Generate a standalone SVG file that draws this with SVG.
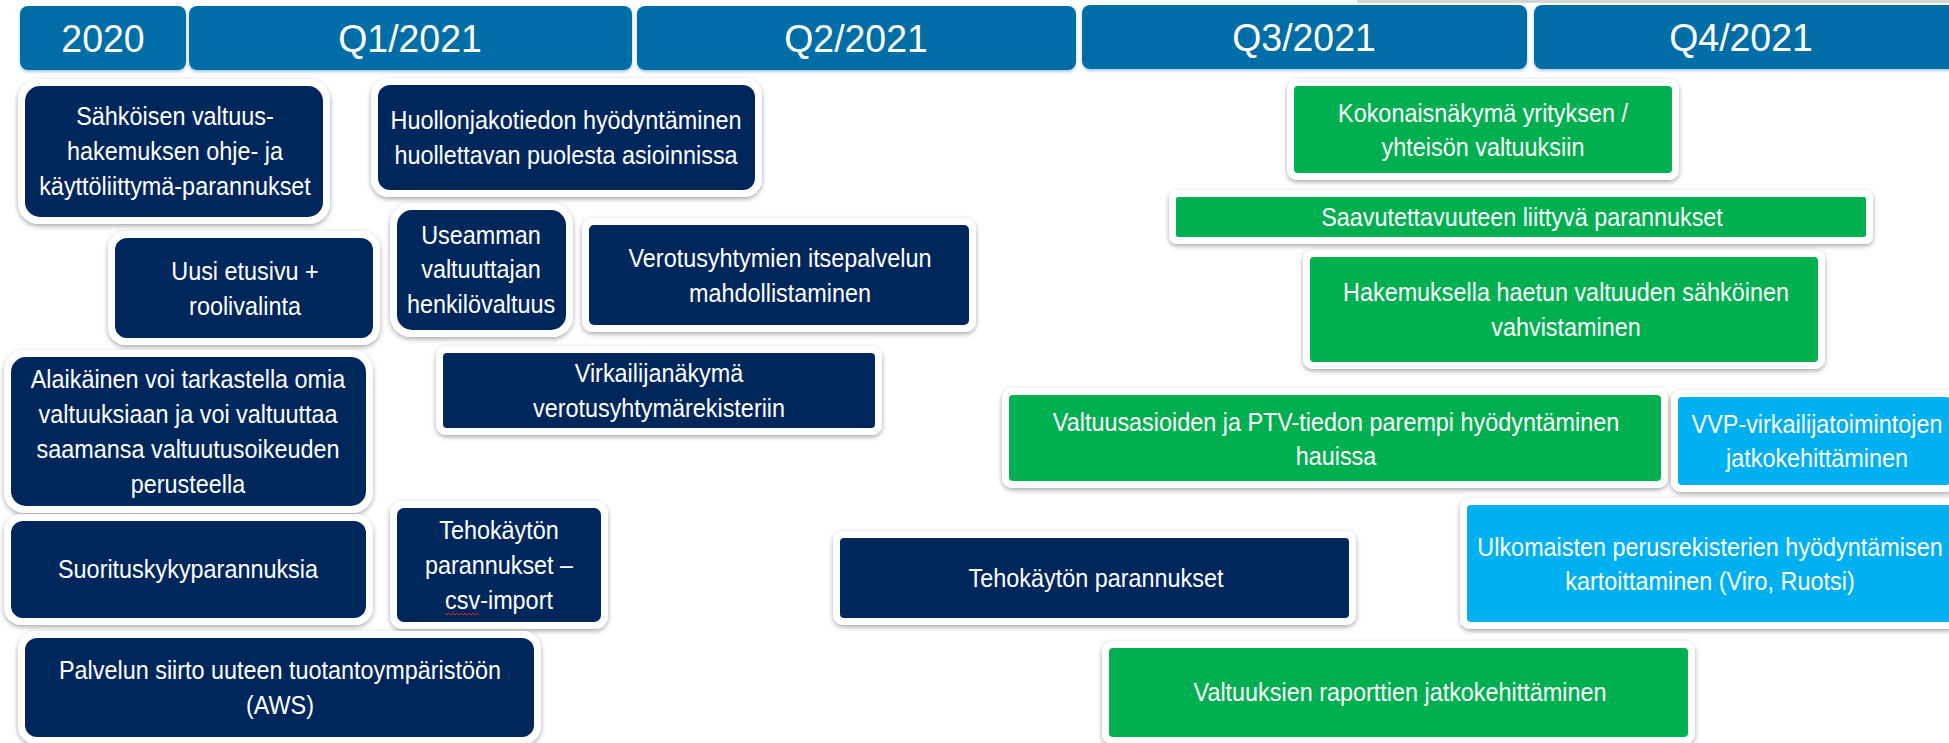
<svg xmlns="http://www.w3.org/2000/svg" width="1949" height="743" viewBox="0 0 1949 743">
<defs>
<filter id="sh" x="-10%" y="-20%" width="120%" height="150%">
<feDropShadow dx="0" dy="2" stdDeviation="2.5" flood-color="#000" flood-opacity="0.35"/>
</filter>
<filter id="hg" x="-5%" y="-20%" width="110%" height="150%">
<feDropShadow dx="0" dy="2" stdDeviation="1.5" flood-color="#6fa8d6" flood-opacity="0.6"/>
</filter>
<style>
.bar{fill:#036ea6;filter:url(#hg)}
.halo{fill:#fff;filter:url(#sh)}
.navy{fill:#00275b}
.green{fill:#00b050}
.lblue{fill:#00b0f0}
.h{font-family:"Liberation Sans",Arial,sans-serif;font-size:39px;fill:#fff;text-anchor:middle}
.t{font-family:"Liberation Sans",Arial,sans-serif;font-size:26px;fill:#fff;text-anchor:middle}
</style>
</defs>
<rect width="1949" height="743" fill="#fff"/>
<rect x="1357" y="0" width="592" height="3" fill="#d6d6d6"/>

<g id="header">
<g id="h2020"><rect class="bar" x="20" y="6" width="166" height="64" rx="8"/><text class="h" transform="translate(103 0) scale(0.96 1)" x="0" y="52">2020</text></g>
<g id="hq1"><rect class="bar" x="189" y="6" width="443" height="64" rx="8"/><text class="h" transform="translate(410 0) scale(0.96 1)" x="0" y="52">Q1/2021</text></g>
<g id="hq2"><rect class="bar" x="637" y="6" width="439" height="64" rx="8"/><text class="h" transform="translate(856 0) scale(0.96 1)" x="0" y="52">Q2/2021</text></g>
<g id="hq3"><rect class="bar" x="1082" y="5" width="445" height="64" rx="8"/><text class="h" transform="translate(1304 0) scale(0.96 1)" x="0" y="51">Q3/2021</text></g>
<g id="hq4"><rect class="bar" x="1534" y="5" width="425" height="64" rx="8"/><text class="h" transform="translate(1741 0) scale(0.96 1)" x="0" y="51">Q4/2021</text></g>
</g>

<g id="n1"><rect class="halo" x="18" y="79" width="312" height="145" rx="21"/><rect class="navy" x="25" y="86" width="298" height="131" rx="15"/>
<text class="t" transform="translate(175 0) scale(0.9 1)"><tspan x="0" y="125">Sähköisen valtuus-</tspan><tspan x="0" y="160">hakemuksen ohje- ja</tspan><tspan x="0" y="195">käyttöliittymä-parannukset</tspan></text></g>

<g id="n2"><rect class="halo" x="371" y="78" width="391" height="119" rx="18"/><rect class="navy" x="378" y="85" width="377" height="105" rx="12"/>
<text class="t" transform="translate(566 0) scale(0.9 1)"><tspan x="0" y="129">Huollonjakotiedon hyödyntäminen</tspan><tspan x="0" y="164">huollettavan puolesta asioinnissa</tspan></text></g>

<g id="n3"><rect class="halo" x="108" y="231" width="272" height="114" rx="18"/><rect class="navy" x="115" y="238" width="258" height="100" rx="12"/>
<text class="t" transform="translate(245 0) scale(0.9 1)"><tspan x="0" y="280">Uusi etusivu +</tspan><tspan x="0" y="315">roolivalinta</tspan></text></g>

<g id="n4"><rect class="halo" x="390" y="203" width="183" height="134" rx="21"/><rect class="navy" x="397" y="210" width="169" height="120" rx="15"/>
<text class="t" transform="translate(481 0) scale(0.9 1)"><tspan x="0" y="244">Useamman</tspan><tspan x="0" y="278.5">valtuuttajan</tspan><tspan x="0" y="313">henkilövaltuus</tspan></text></g>

<g id="n5"><rect class="halo" x="582" y="218" width="394" height="114" rx="11"/><rect class="navy" x="589" y="225" width="380" height="100" rx="5"/>
<text class="t" transform="translate(780 0) scale(0.9 1)"><tspan x="0" y="267">Verotusyhtymien itsepalvelun</tspan><tspan x="0" y="302">mahdollistaminen</tspan></text></g>

<g id="n6"><rect class="halo" x="436" y="346" width="446" height="89" rx="10"/><rect class="navy" x="443" y="353" width="432" height="75" rx="4"/>
<text class="t" transform="translate(659 0) scale(0.9 1)"><tspan x="0" y="382">Virkailijanäkymä</tspan><tspan x="0" y="417">verotusyhtymärekisteriin</tspan></text></g>

<g id="n7"><rect class="halo" x="4" y="350" width="369" height="163" rx="21"/><rect class="navy" x="11" y="357" width="355" height="149" rx="15"/>
<text class="t" transform="translate(188 0) scale(0.9 1)"><tspan x="0" y="388">Alaikäinen voi tarkastella omia</tspan><tspan x="0" y="423">valtuuksiaan ja voi valtuuttaa</tspan><tspan x="0" y="458">saamansa valtuutusoikeuden</tspan><tspan x="0" y="493">perusteella</tspan></text></g>

<g id="n8"><rect class="halo" x="4" y="514" width="369" height="111" rx="18"/><rect class="navy" x="11" y="521" width="355" height="97" rx="12"/>
<text class="t" transform="translate(188 0) scale(0.9 1)"><tspan x="0" y="578">Suorituskykyparannuksia</tspan></text></g>

<g id="n9"><rect class="halo" x="390" y="501" width="218" height="128" rx="13"/><rect class="navy" x="397" y="508" width="204" height="114" rx="7"/>
<text class="t" transform="translate(499 0) scale(0.9 1)"><tspan x="0" y="539">Tehokäytön</tspan><tspan x="0" y="574">parannukset –</tspan><tspan x="0" y="609">csv-import</tspan></text>
<path d="M445 613 l2 2 l2 -2 l2 2 l2 -2 l2 2 l2 -2 l2 2 l2 -2 l2 2 l2 -2 l2 2 l2 -2 l2 2 l2 -2 l2 2 l2 -2 l2 2" fill="none" stroke="#e02020" stroke-width="1"/></g>

<g id="n10"><rect class="halo" x="18" y="631" width="523" height="113" rx="18"/><rect class="navy" x="25" y="638" width="509" height="99" rx="12"/>
<text class="t" transform="translate(280 0) scale(0.9 1)"><tspan x="0" y="679">Palvelun siirto uuteen tuotantoympäristöön</tspan><tspan x="0" y="714">(AWS)</tspan></text></g>

<g id="n11"><rect class="halo" x="833" y="531" width="523" height="94" rx="10"/><rect class="navy" x="840" y="538" width="509" height="80" rx="4"/>
<text class="t" transform="translate(1096 0) scale(0.9 1)"><tspan x="0" y="587">Tehokäytön parannukset</tspan></text></g>

<g id="n12"><rect class="halo" x="1287" y="79" width="392" height="101" rx="10"/><rect class="green" x="1294" y="86" width="378" height="87" rx="4"/>
<text class="t" transform="translate(1483 0) scale(0.9 1)"><tspan x="0" y="122">Kokonaisnäkymä yrityksen /</tspan><tspan x="0" y="156">yhteisön valtuuksiin</tspan></text></g>

<g id="n13"><rect class="halo" x="1169" y="190" width="704" height="54" rx="8"/><rect class="green" x="1176" y="197" width="690" height="40" rx="2"/>
<text class="t" transform="translate(1522 0) scale(0.9 1)"><tspan x="0" y="226">Saavutettavuuteen liittyvä parannukset</tspan></text></g>

<g id="n14"><rect class="halo" x="1303" y="250" width="522" height="119" rx="10"/><rect class="green" x="1310" y="257" width="508" height="105" rx="4"/>
<text class="t" transform="translate(1566 0) scale(0.9 1)"><tspan x="0" y="301">Hakemuksella haetun valtuuden sähköinen</tspan><tspan x="0" y="336">vahvistaminen</tspan></text></g>

<g id="n15"><rect class="halo" x="1002" y="388" width="666" height="100" rx="10"/><rect class="green" x="1009" y="395" width="652" height="86" rx="4"/>
<text class="t" transform="translate(1336 0) scale(0.9 1)"><tspan x="0" y="431">Valtuusasioiden ja PTV-tiedon parempi hyödyntäminen</tspan><tspan x="0" y="465">hauissa</tspan></text></g>

<g id="n16"><rect class="halo" x="1671" y="390" width="286" height="102" rx="10"/><rect class="lblue" x="1678" y="397" width="272" height="88" rx="4"/>
<text class="t" transform="translate(1817 0) scale(0.9 1)"><tspan x="0" y="433">VVP-virkailijatoimintojen</tspan><tspan x="0" y="467">jatkokehittäminen</tspan></text></g>

<g id="n17"><rect class="halo" x="1460" y="498" width="499" height="131" rx="10"/><rect class="lblue" x="1467" y="505" width="485" height="117" rx="4"/>
<text class="t" transform="translate(1710 0) scale(0.9 1)"><tspan x="0" y="556">Ulkomaisten perusrekisterien hyödyntämisen</tspan><tspan x="0" y="590">kartoittaminen (Viro, Ruotsi)</tspan></text></g>

<g id="n18"><rect class="halo" x="1102" y="641" width="593" height="103" rx="10"/><rect class="green" x="1109" y="648" width="579" height="89" rx="4"/>
<text class="t" transform="translate(1400 0) scale(0.9 1)"><tspan x="0" y="701">Valtuuksien raporttien jatkokehittäminen</tspan></text></g>

<g id="connectors"></g>
</svg>
